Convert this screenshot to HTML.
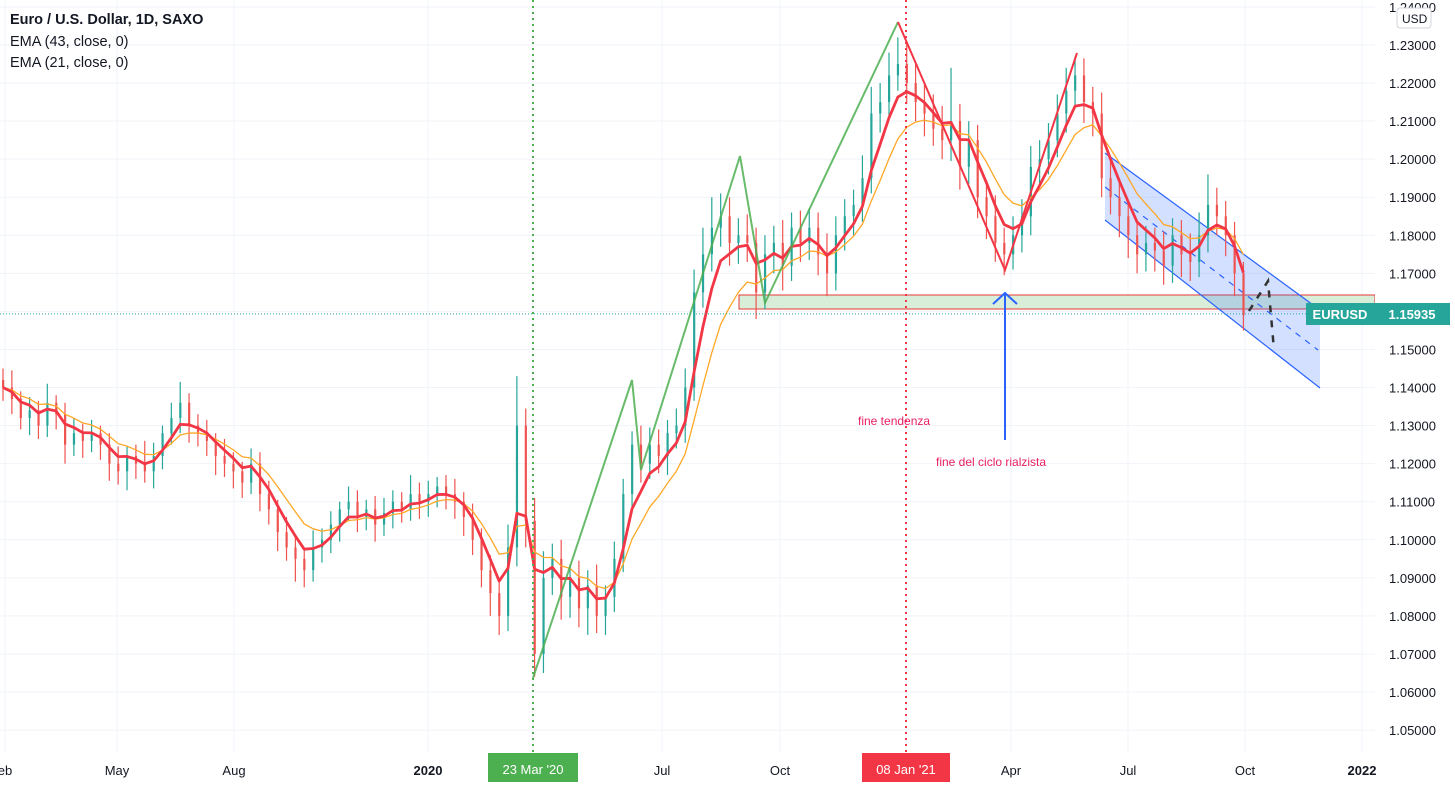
<!DOCTYPE html>
<html><head><meta charset="utf-8"><style>
body{margin:0;background:#fff;font-family:"Liberation Sans",sans-serif;}
#wrap{position:relative;width:1455px;height:787px;overflow:hidden}
svg text{font-family:"Liberation Sans",sans-serif}
</style></head><body>
<div id="wrap">
<svg id="c" width="1455" height="787"></svg>
</div>
<script>
const yTicks=[1.24,1.23,1.22,1.21,1.20,1.19,1.18,1.17,1.16,1.15,1.14,1.13,1.12,1.11,1.10,1.09,1.08,1.07,1.06,1.05];
const xLabels=["eb","May","Aug","2020","Jul","Oct","Apr","Jul","Oct","2022"];
const xLabelPos=[5,117,234,428,662,780,1011,1128,1245,1362];
const closes=[1.140,1.137,1.132,1.134,1.130,1.136,1.133,1.125,1.128,1.126,
1.128,1.125,1.120,1.118,1.122,1.120,1.118,1.122,1.128,1.132,
1.136,1.130,1.128,1.126,1.122,1.120,1.118,1.115,1.120,1.112,
1.108,1.102,1.098,1.095,1.092,1.098,1.100,1.104,1.108,1.110,
1.106,1.108,1.104,1.107,1.110,1.108,1.112,1.110,1.112,1.114,
1.112,1.110,1.106,1.100,1.092,1.086,1.080,1.098,1.130,1.105,
1.070,1.090,1.095,1.085,1.090,1.082,1.088,1.080,1.085,1.095,
1.112,1.125,1.120,1.125,1.122,1.128,1.130,1.140,1.165,1.175,
1.182,1.185,1.178,1.180,1.178,1.165,1.175,1.178,1.172,1.182,
1.178,1.182,1.175,1.170,1.180,1.185,1.188,1.195,1.212,1.215,
1.222,1.225,1.220,1.215,1.212,1.208,1.205,1.210,1.198,1.205,
1.190,1.185,1.178,1.175,1.180,1.185,1.198,1.200,1.205,1.212,
1.218,1.222,1.215,1.212,1.195,1.190,1.185,1.180,1.175,1.178,
1.176,1.172,1.180,1.175,1.173,1.180,1.188,1.185,1.180,1.170,1.159];
const wickUp=[30,45,20,35,25,50,20,30,40,25,35,20,30,45,25,30,60,35,20,40,55,25,30,35,20,45,30,25,40,30,
35,25,40,30,25,45,30,35,20,40,30,25,35,40,30,25,50,30,35,25,30,40,25,35,30,40,30,60,130,45,
60,70,40,50,35,45,40,55,30,45,40,35,50,45,40,35,45,50,60,70,80,60,50,45,55,40,50,45,60,40,
45,50,40,55,50,45,40,60,70,50,60,70,55,50,45,50,60,140,45,50,40,45,55,40,50,45,55,50,45,50,
60,50,45,40,55,45,50,40,35,45,40,50,45,40,55,60,80,45,40,35,30];
const wickDn=[35,40,30,45,35,30,40,50,30,45,30,40,45,35,50,40,30,45,35,30,40,45,35,40,50,35,45,40,30,45,
40,50,35,60,45,30,40,35,45,30,40,35,45,30,40,35,30,45,40,35,40,45,50,40,45,60,50,40,50,70,
60,50,45,60,55,50,70,45,50,40,35,45,50,40,45,50,40,45,35,40,45,50,60,55,50,70,45,50,65,40,
50,45,55,60,45,40,50,45,40,50,45,40,55,50,60,45,50,55,60,45,55,60,50,55,40,45,50,45,40,45,
50,45,55,60,50,45,55,60,50,45,55,50,45,60,50,40,45,50,55,60,40];
const PLOT_W=1375;
const y=p=>45+(1.23-p)*3806;
const x=i=>3+i*8.86;
const NS="http://www.w3.org/2000/svg";
const svg=document.getElementById('c');
function mk(t,a,p){const e=document.createElementNS(NS,t);for(const k in a)e.setAttribute(k,a[k]);(p||svg).appendChild(e);return e;}
yTicks.forEach(p=>{const l=mk('line',{x1:0,x2:PLOT_W,y1:y(p),y2:y(p),stroke:'#f0f3fa','stroke-width':1});

});
xLabelPos.concat([533,906]).forEach(px=>{const l=mk('line',{x1:px,x2:px,y1:0,y2:752,stroke:'#f0f3fa','stroke-width':1});

});
let g=mk('rect',{x:739,y:295,width:636,height:14,fill:'#d9eed9',stroke:'#e53935','stroke-width':1});


let ch=mk('polygon',{points:'1105,153 1320,310 1320,388 1105,220',fill:'rgba(41,98,255,0.2)',stroke:'none'});


[['1105,153','1320,310'],['1105,220','1320,388']].forEach(s=>{const a=s[0].split(','),b=s[1].split(',');
const l=mk('line',{x1:a[0],y1:a[1],x2:b[0],y2:b[1],stroke:'#2962ff','stroke-width':1.2});

});
let md=mk('line',{x1:1105,y1:187,x2:1318,y2:350,stroke:'#2962ff','stroke-width':1.2,'stroke-dasharray':'6,6'});


let prev=closes[0]+0.002;
closes.forEach((c,i)=>{const o=prev;prev=c;const up=c>=o;const col=up?'#26a69a':'#ef5350';
const hi=Math.max(o,c)+wickUp[i]/10000, lo=Math.min(o,c)-wickDn[i]/10000;
const w=mk('line',{x1:x(i),x2:x(i),y1:y(hi),y2:y(lo),stroke:col,'stroke-width':1.2});


const b=mk('rect',{x:x(i)-1,y:y(Math.max(o,c)),width:2.2,height:Math.max(1,Math.abs(y(o)-y(c))),fill:col});

});
function ema(n){const a=2/(n+1);let e=closes[0];return closes.map(c=>e=e+(c-e)*a);}
[[ema(8.6),'#ffa726',1.3,'ema-43-line'],[ema(4.2),'#f23645',2.8,'ema-21-line']].forEach(s=>{
const pl=mk('polyline',{points:s[0].map((v,i)=>x(i)+','+y(v)).join(' '),fill:'none',stroke:s[1],'stroke-width':s[2],'stroke-linejoin':'round'});

});
let gl=mk('polyline',{points:'533,678 632,380 641,470 740,156 765,303 898,22',fill:'none',stroke:'#4caf50','stroke-width':2,opacity:0.85});


let rl=mk('polyline',{points:'898,22 1005,270 1077,53',fill:'none',stroke:'#f23645','stroke-width':2});


let bk=mk('polyline',{points:'1249,311 1268,281 1274,350',fill:'none',stroke:'#333','stroke-width':2.5,'stroke-dasharray':'7,8'});


let v1=mk('line',{x1:533,x2:533,y1:0,y2:752,stroke:'#4caf50','stroke-width':2,'stroke-dasharray':'2,4'});


let v2=mk('line',{x1:906,x2:906,y1:0,y2:752,stroke:'#f23645','stroke-width':2,'stroke-dasharray':'2,4'});


let pr=mk('line',{x1:0,x2:1375,y1:y(1.15935),y2:y(1.15935),stroke:'#26a69a','stroke-width':1,'stroke-dasharray':'1,2'});


let arl=mk('line',{x1:1005,x2:1005,y1:440,y2:294,stroke:'#2962ff','stroke-width':2});


let arh=mk('polyline',{points:'993,304 1005,293 1017,304',fill:'none',stroke:'#2962ff','stroke-width':2});


[['fine tendenza',858,425,'note-fine-tendenza'],['fine del ciclo rialzista',936,466,'note-fine-ciclo']].forEach(t=>{
const e=mk('text',{x:t[1],y:t[2],fill:'#e91e63','font-size':12});e.textContent=t[0];

});
let ax=mk('rect',{x:1375,y:0,width:80,height:787,fill:'#fff'});


let axb=mk('rect',{x:0,y:752,width:1455,height:35,fill:'#fff'});


yTicks.forEach(p=>{const t=mk('text',{x:1389,y:y(p)+5,fill:'#131722','font-size':13});t.textContent=p.toFixed(5);

});
let ub=mk('rect',{x:1397,y:8,width:34,height:20,fill:'#fff',stroke:'#d1d4dc',rx:3});


let ut=mk('text',{x:1402,y:23,fill:'#131722','font-size':12});ut.textContent='USD';


xLabels.forEach((l,i)=>{const t=mk('text',{x:xLabelPos[i],y:775,fill:'#131722','font-size':13,'text-anchor':'middle','font-weight':l==='2020'||l==='2022'?'bold':'normal'});t.textContent=l;

});
[[488,90,'#4caf50',"23 Mar '20",'date-marker-green'],[862,88,'#f23645',"08 Jan '21",'date-marker-red']].forEach(d=>{
const r=mk('rect',{x:d[0],y:753,width:d[1],height:29,fill:d[2]});


const t=mk('text',{x:d[0]+d[1]/2,y:774,fill:'#fff','font-size':13,'text-anchor':'middle'});t.textContent=d[3];

});
let sb=mk('rect',{x:1306,y:303,width:69,height:22,fill:'#26a69a'});


let st=mk('text',{x:1340,y:319,fill:'#fff','font-size':13,'text-anchor':'middle','font-weight':'bold'});st.textContent='EURUSD';


let pb=mk('rect',{x:1375,y:303,width:75,height:22,fill:'#26a69a'});


let pt=mk('text',{x:1412,y:319,fill:'#fff','font-size':13,'text-anchor':'middle','font-weight':'bold'});pt.textContent='1.15935';


[['Euro / U.S. Dollar, 1D, SAXO',24,'bold','legend-title'],['EMA (43, close, 0)',46,'normal','legend-ema-43'],['EMA (21, close, 0)',67,'normal','legend-ema-21']].forEach(l=>{
const t=mk('text',{x:10,y:l[1],fill:'#131722','font-size':14.5,'font-weight':l[2]});t.textContent=l[0];

});
</script>
</body></html>
